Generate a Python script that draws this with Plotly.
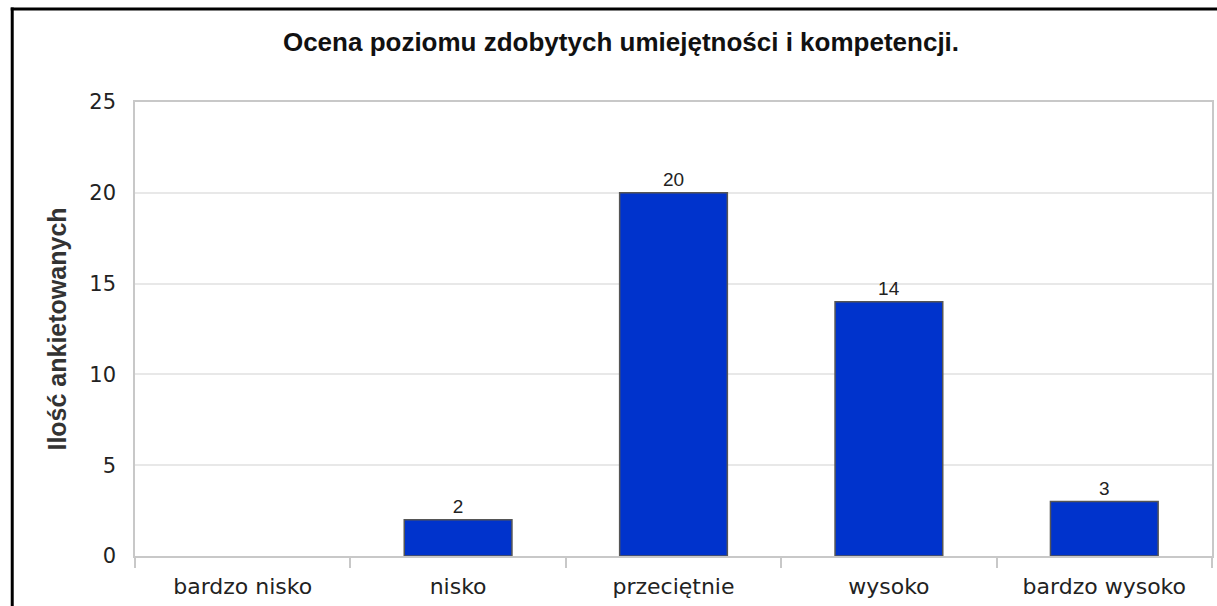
import plotly.graph_objects as go

categories = ["bardzo nisko", "nisko", "przeciętnie", "wysoko", "bardzo wysoko"]
values = [0, 2, 20, 14, 3]
value_labels = ["", "2", "20", "14", "3"]
y_ticks = [0, 5, 10, 15, 20, 25]
title_text = "Ocena poziomu zdobytych umiejętności i kompetencji."
y_title = "Ilość ankietowanych"

W, H = 1217, 606
L, R, T, B = 135, 3, 102, 50
pw, ph = W - L - R, H - T - B

def px_x(px):
    return (px - L) / pw

def px_y(py):
    return (H - B - py) / ph

fig = go.Figure()
fig.add_trace(go.Bar(
    x=categories, y=values, width=0.5,
    marker=dict(color="#0033cc",
                line=dict(color="#555555", width=[1.5 if v > 0 else 0 for v in values])),
    text=value_labels, textposition="outside", cliponaxis=False,
    textfont=dict(family="Liberation Sans", size=19, color="#222222"),
    hoverinfo="skip",
))

fig.update_layout(
    width=W, height=H,
    margin=dict(l=L, r=R, t=T, b=B),
    paper_bgcolor="white", plot_bgcolor="white",
    showlegend=False,
    title=dict(text=title_text, x=621 / W, xref="container", xanchor="center",
               y=1 - 42 / H, yref="container", yanchor="middle",
               font=dict(family="Liberation Sans", size=26, color="#111111", weight="bold")),
    xaxis=dict(
        type="category", tickson="boundaries", ticks="outside", ticklen=10,
        tickcolor="#c8c8c8", tickwidth=1.5, ticklabelstandoff=10,
        showline=True, linecolor="#c8c8c8", linewidth=1.5, mirror=True,
        showgrid=False, range=[-0.5, 4.5],
        tickfont=dict(family="DejaVu Sans", size=22, color="#222222"),
    ),
    yaxis=dict(
        range=[0, 25], tickvals=y_ticks, ticks="", ticklabelstandoff=13,
        showline=True, linecolor="#c8c8c8", linewidth=1.5, mirror=True,
        showgrid=True, gridcolor="#e8e8e8", gridwidth=1.5, zeroline=False,
        tickfont=dict(family="DejaVu Sans", size=21, color="#222222"),
        title=dict(text=y_title, standoff=16,
                   font=dict(family="Liberation Sans", size=25, color="#333333", weight="bold")),
    ),
    shapes=[
        dict(type="line", xref="paper", yref="paper", x0=px_x(10.5), x1=px_x(1220), y0=px_y(9), y1=px_y(9),
             line=dict(color="black", width=3)),
        dict(type="line", xref="paper", yref="paper", x0=px_x(12), x1=px_x(12), y0=px_y(7.5), y1=px_y(610),
             line=dict(color="black", width=3)),
    ],
)

fig.write_html("out.html", config={"displayModeBar": False},
               post_script="document.body.style.margin='0';document.body.style.padding='0';")
